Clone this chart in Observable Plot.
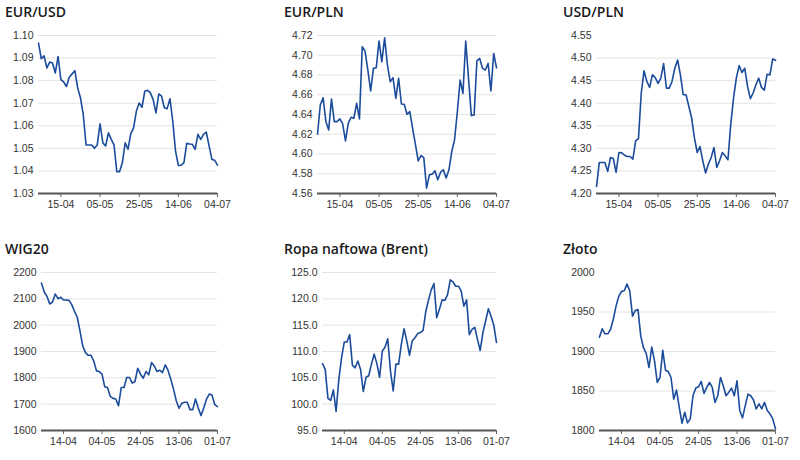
<!DOCTYPE html>
<html>
<head>
<meta charset="utf-8">
<script src="https://cdn.jsdelivr.net/npm/d3@7"></script>
<script src="https://cdn.jsdelivr.net/npm/@observablehq/plot@0.6"></script>
<style>
  html, body { margin: 0; padding: 0; background: #fff; }
  body { width: 800px; height: 460px; position: relative; overflow: hidden; }
  .title { position: absolute; font-family: "Open Sans", sans-serif; font-weight: 600; font-size: 14px; line-height: 14px; color: #1a1a1a; white-space: nowrap; }
  .chart { position: absolute; }
</style>
</head>
<body>
<script>
// ---- data ----
const titles = ["EUR/USD", "EUR/PLN", "USD/PLN", "WIG20", "Ropa naftowa (Brent)", "Złoto"];

const topTickLabels = ["15-04", "05-05", "25-05", "14-06", "04-07"];
const bottomTickLabels = ["14-04", "04-05", "24-05", "13-06", "01-07"];
const tickIndex = [8, 22, 36, 50, 64];

const eurusd = [1.0966, 1.0897, 1.091, 1.0856, 1.0882, 1.0878, 1.0834, 1.0907, 1.0804, 1.0794,
  1.0774, 1.0815, 1.083, 1.0844, 1.0768, 1.0724, 1.065, 1.0515, 1.0515, 1.0515,
  1.050, 1.0515, 1.0609, 1.0525, 1.051, 1.0569, 1.054, 1.0515, 1.0397, 1.0397,
  1.0437, 1.0525, 1.0496, 1.0565, 1.0591, 1.0665, 1.0701, 1.0682, 1.0753, 1.0757,
  1.0746, 1.0716, 1.0657, 1.0741, 1.0731, 1.068, 1.0676, 1.072, 1.062, 1.0488,
  1.0424, 1.0425, 1.0437, 1.0522, 1.0519, 1.0518, 1.0496, 1.0562, 1.054, 1.0562,
  1.0572, 1.051, 1.0451, 1.0447, 1.0426];

const eurpln = [4.620, 4.6496, 4.657, 4.6328, 4.6244, 4.6557, 4.6328, 4.6328, 4.6355, 4.6304,
  4.6133, 4.6311, 4.6372, 4.6362, 4.6513, 4.6355, 4.7086, 4.7042, 4.685, 4.6638,
  4.6867, 4.6873, 4.7143, 4.6934, 4.7176, 4.690, 4.6732, 4.6772, 4.6564, 4.6766,
  4.6506, 4.6503, 4.6402, 4.6429, 4.626, 4.6099, 4.593, 4.5984, 4.5964, 4.5654,
  4.5789, 4.5796, 4.583, 4.5739, 4.5816, 4.584, 4.5756, 4.584, 4.6025, 4.6143,
  4.6429, 4.6749, 4.6614, 4.7143, 4.6766, 4.6389, 4.6396, 4.6944, 4.6968, 4.6867,
  4.685, 4.6917, 4.6638, 4.7018, 4.6873];

const usdpln = [4.2154, 4.2688, 4.2688, 4.2688, 4.249, 4.2798, 4.2776, 4.2469, 4.2908, 4.290,
  4.2849, 4.282, 4.282, 4.2761, 4.3164, 4.3215, 4.4226, 4.4716, 4.4482, 4.435,
  4.4628, 4.457, 4.4438, 4.4555, 4.4877, 4.4335, 4.4335, 4.4482, 4.4775, 4.4958,
  4.4628, 4.4189, 4.4189, 4.3933, 4.3677, 4.3237, 4.2908, 4.304, 4.2725, 4.2454,
  4.2652, 4.2798, 4.3018, 4.2578, 4.2725, 4.2908, 4.2834, 4.2747, 4.353, 4.4116,
  4.4555, 4.4833, 4.468, 4.4775, 4.4372, 4.4101, 4.4226, 4.4409, 4.4555, 4.435,
  4.4291, 4.4643, 4.4628, 4.498, 4.495];

const wig20 = [2159.7, 2125.8, 2109.4, 2080.5, 2088, 2118, 2100.6, 2105.7, 2095.6, 2095.6,
  2094.3, 2078, 2052.8, 2030, 1977.4, 1920.8, 1895.6, 1885.5, 1885.5, 1864,
  1826.4, 1823.9, 1813.8, 1766, 1763.5, 1729.6, 1722, 1719.5, 1694.3, 1763.5,
  1763.5, 1801.3, 1801.3, 1780, 1786, 1836.5, 1813.8, 1798.7, 1823.9, 1811.3,
  1857.9, 1845.3, 1823.9, 1829, 1820, 1849, 1829, 1795, 1757, 1713.2,
  1684.3, 1703.1, 1707, 1707, 1679.2, 1679.2, 1719.5, 1685.5, 1656.6, 1685.5,
  1719.5, 1738.4, 1734.6, 1698, 1690.6];

const brent = [107.7, 106.6, 101.1, 100.7, 102.7, 98.6, 104.7, 108.8, 111.8, 111.8,
  113.2, 107.4, 106.9, 108.2, 106.6, 102.4, 105.1, 105.4, 107.6, 109.5,
  107.7, 105.1, 110.1, 110.8, 112.4, 106.3, 102.5, 107.6, 107.6, 111.4,
  114.3, 112.0, 109.3, 112.0, 112.6, 113.4, 113.6, 114.0, 117.6, 119.8,
  121.7, 122.9, 116.4, 118.0, 119.8, 119.7, 120.8, 123.6, 123.2, 122.4,
  122.4, 121.5, 118.6, 119.8, 113.2, 114.2, 114.6, 112.3, 110.2, 113.6,
  115.8, 118.1, 116.7, 115.0, 111.7];

const zloto = [1918.2, 1928.7, 1922.4, 1922.4, 1927.9, 1940.5, 1957.2, 1969.8, 1976.1, 1976.9,
  1985.3, 1976.9, 1944.7, 1951.8, 1953, 1919.5, 1904.8, 1897.3, 1879.7, 1905.7,
  1888.1, 1860.8, 1867.1, 1901.5, 1876.3, 1874.6, 1867.1, 1839.8, 1851.2, 1829.4,
  1809.2, 1823.1, 1809.6, 1814.7, 1844, 1853.7, 1855.3, 1862.1, 1847, 1854.5,
  1860.8, 1854.5, 1835.6, 1844, 1867.1, 1856.6, 1844, 1848.2, 1853.7, 1844,
  1862.9, 1825.2, 1815.9, 1831.4, 1846.1, 1844, 1838.6, 1827.3, 1833.6, 1827.3,
  1835.6, 1825.2, 1821, 1814.7, 1802.1];

const yTicks = [
  [1.03, 1.04, 1.05, 1.06, 1.07, 1.08, 1.09, 1.10],
  [4.56, 4.58, 4.60, 4.62, 4.64, 4.66, 4.68, 4.70, 4.72],
  [4.20, 4.25, 4.30, 4.35, 4.40, 4.45, 4.50, 4.55],
  [1600, 1700, 1800, 1900, 2000, 2100, 2200],
  [95, 100, 105, 110, 115, 120, 125],
  [1800, 1850, 1900, 1950, 2000]
];
const yFormats = [".2f", ".2f", ".2f", "d", ".1f", "d"];

// ---- layout ----
const series = [eurusd, eurpln, usdpln, wig20, brent, zloto];
const colW = 279, rowH = 237;
const marginLefts = [38, 38, 38, 41, 43, 41];

series.forEach((vals, k) => {
  const col = k % 3, row = Math.floor(k / 3);
  const left = col * colW, top = row * rowH;
  const labels = row === 0 ? topTickLabels : bottomTickLabels;
  const ticks = yTicks[k];
  const yMin = ticks[0], yMax = ticks[ticks.length - 1];
  const gridTicks = ticks.slice(1).filter(t => !(col === 2 && t === yMax));
  const data = vals.map((v, i) => ({i, v}));

  const t = document.createElement("div");
  t.className = "title";
  t.textContent = titles[k];
  t.style.left = (left + 5) + "px";
  t.style.top = (top + 5) + "px";
  document.body.appendChild(t);

  const chart = Plot.plot({
    width: colW,
    height: 190,
    marginTop: 10,
    marginBottom: 22,
    marginLeft: marginLefts[k],
    marginRight: 62,
    style: {fontFamily: "'Liberation Sans', Arial, sans-serif", fontSize: "10.5px", color: "#333", background: "transparent", overflow: "visible"},
    x: {domain: [0, vals.length - 1], label: null},
    y: {domain: [yMin, yMax], label: null},
    marks: [
      Plot.gridY(gridTicks, {stroke: "#e3e3e3", strokeOpacity: 1}),
      Plot.axisY(ticks, {label: null, tickSize: 0, tickPadding: 5, tickFormat: d3.format(yFormats[k]), fill: "#333"}),
      Plot.axisX(tickIndex, {label: null, tickSize: 4, tickPadding: 3, stroke: "#666", fill: "#333", tickFormat: (d) => labels[tickIndex.indexOf(d)]}),
      Plot.ruleY([yMin], {stroke: "#555", strokeWidth: 2}),
      Plot.lineY(data, {x: "i", y: "v", stroke: "#1b4c9c", strokeWidth: 1.6})
    ]
  });
  chart.classList.add("chart");
  chart.style.left = left + "px";
  chart.style.top = (top + 25) + "px";
  document.body.appendChild(chart);
});
</script>
</body>
</html>
